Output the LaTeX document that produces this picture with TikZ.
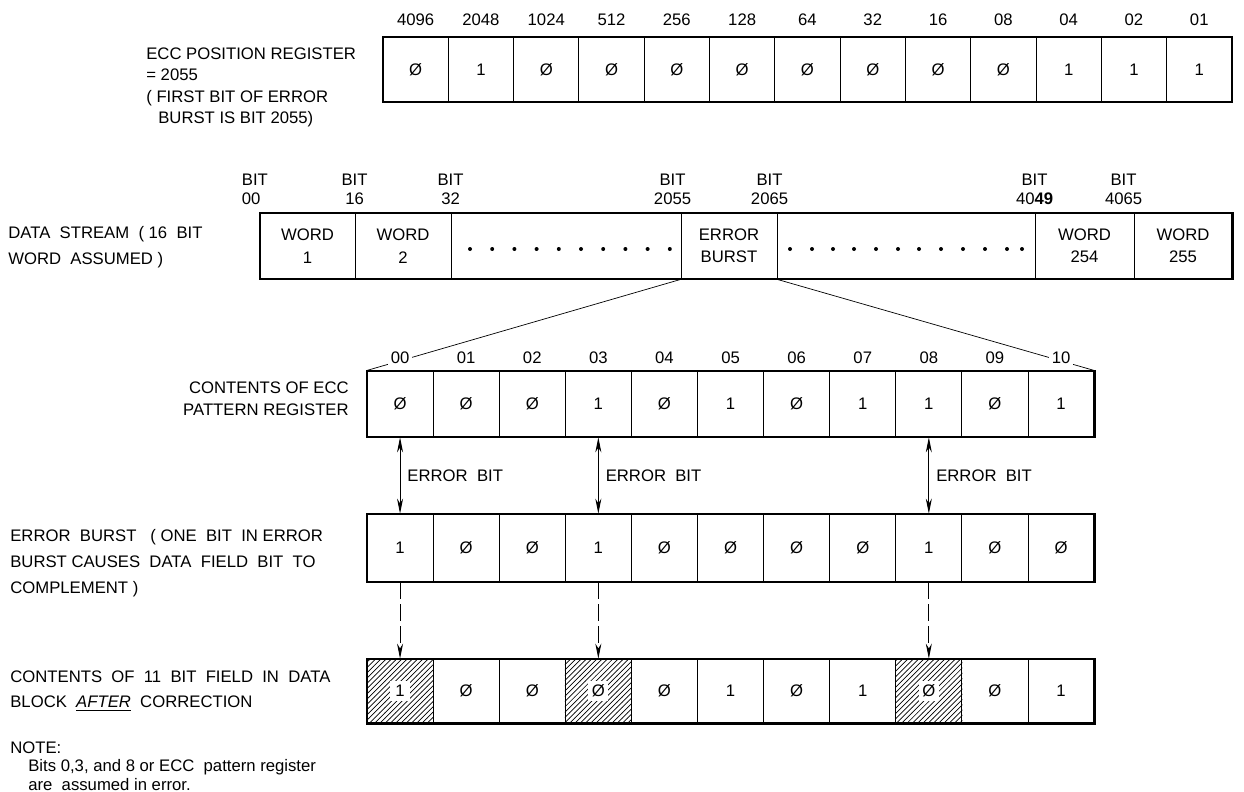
\documentclass[tikz,border=0pt]{standalone}
\usepackage{fontspec}
\setmainfont{Liberation Sans}
\usetikzlibrary{positioning,patterns,arrows.meta}

\begin{document}
\begin{tikzpicture}[x=0.2mm,y=-0.2mm, font=\fontsize{9.5}{11}\selectfont,
    cell/.style={draw, line width=0.5pt, inner sep=0pt, minimum width=13.22mm, minimum height=13.2mm},
    poscell/.style={cell, minimum width=13.06mm, minimum height=13mm},
    wordcell/.style={cell, align=center, font=\fontsize{9.5}{12.8}\selectfont, minimum height=13.2mm},
    frame/.style={line width=1.2pt},
    lbl/.style={inner sep=1pt},
    bitlbl/.style={inner sep=0pt, align=center, font=\fontsize{9.5}{10.8}\selectfont},
    txt/.style={align=left, inner sep=0pt, anchor=north west},
    errbit/.style={{Stealth[length=3mm,width=1.2mm]}-{Stealth[length=3mm,width=1.2mm]}, line width=0.5pt},
    flip/.style={-{Stealth[length=3mm,width=1.2mm]}, dash pattern=on 3.4mm off 1mm, line width=0.5pt}]

    \useasboundingbox (0,0) rectangle (1244,792);

    % ECC position register
    \node[txt, font=\fontsize{9.5}{12.3}\selectfont] (postxt) at (146,47)
        {ECC POSITION REGISTER\\= 2055\\( FIRST BIT OF ERROR\\\hspace{2.4mm}BURST IS BIT 2055)};
    \foreach \v [count=\i from 0] in {Ø,1,Ø,Ø,Ø,Ø,Ø,Ø,Ø,Ø,1,1,1}
        \node[poscell] (pos\i) at ({415.65+65.3*\i},69.5) {\v};
    \foreach \w [count=\i from 0] in {4096,2048,1024,512,256,128,64,32,16,08,04,02,01}
        \node[lbl, above=1.8mm of pos\i] (posw\i) {\w};
    \draw[frame] (pos0.north west) rectangle (pos12.south east);

    % data stream
    \node[txt, font=\fontsize{9.5}{14.7}\selectfont] (dstxt) at (8,226)
        {DATA\ \ STREAM\ \ (\ 16\ \ BIT\\WORD\ \ ASSUMED )};
    \foreach \a/\b/\t [count=\i] in {260/355/{WORD\\1}, 355/451/{WORD\\2}, 451/681/{},
            681/777/{ERROR\\BURST}, 777/1035/{}, 1035/1134/{WORD\\254}, 1134/1232/{WORD\\255}}
        \node[wordcell, minimum width={(\b-\a)*0.2mm}] (ds\i) at ({(\a+\b)/2},246) {\t};
    \foreach \k in {0,...,9} \fill ({470+22.2*\k},249) circle[radius=0.4mm];
    \foreach \x in {790,812,833,854,876,898,919,941,963,985,1007,1022} \fill (\x,249) circle[radius=0.4mm];
    \draw[frame] (ds1.north west) rectangle (ds7.south east);

    \node[bitlbl, align=left, anchor=south west] (bit00) at ([xshift=-3.6mm, yshift=1.6mm]ds1.north west) {BIT\\00};
    \node[bitlbl, anchor=south] (bit16) at ([yshift=1.6mm]ds2.north west) {BIT\\16};
    \node[bitlbl, anchor=south] (bit32) at ([yshift=1.6mm]ds3.north west) {BIT\\32};
    \node[bitlbl, anchor=south] (bit2055) at ([xshift=-1.6mm, yshift=1.6mm]ds4.north west) {BIT\\2055};
    \node[bitlbl, anchor=south] (bit2065) at ([xshift=-1.4mm, yshift=1.6mm]ds5.north west) {BIT\\2065};
    \node[bitlbl, anchor=south] (bit4049) at ([yshift=1.6mm]ds6.north west) {BIT\\40\textbf{49}};
    \node[bitlbl, anchor=south] (bit4065) at ([xshift=-2mm, yshift=1.6mm]ds7.north west) {BIT\\4065};

    % ECC pattern register
    \node[anchor=north east, align=right, inner sep=0pt, font=\fontsize{9.5}{13}\selectfont] (pattxt) at (349,381)
        {CONTENTS OF ECC\\PATTERN REGISTER};
    \foreach \v [count=\i from 0] in {Ø,Ø,Ø,1,Ø,1,Ø,1,1,Ø,1}
        \node[cell] (pat\i) at ({400.05+66.1*\i},404) {\v};
    \draw (ds4.south west) -- (pat0.north west);
    \draw (ds4.south east) -- (pat10.north east);
    \foreach \w [count=\i from 0] in {00,01,02,03,04,05,06,07,08,09,10}
        \node[lbl, fill=white, inner sep=1.5pt, above=0.8mm of pat\i] (patw\i) {\w};
    \draw[frame] (pat0.north west) rectangle (pat10.south east);

    % error burst
    \node[txt, font=\fontsize{9.5}{14.7}\selectfont] (brsttxt) at (10,529)
        {ERROR\ \ BURST\ \ \ (\ ONE\ \ BIT\ \ IN ERROR\\BURST CAUSES\ \ DATA\ \ FIELD\ \ BIT\ \ TO\\COMPLEMENT )};
    \foreach \v [count=\i from 0] in {1,Ø,Ø,1,Ø,Ø,Ø,Ø,1,Ø,Ø}
        \node[cell, minimum height=13.6mm] (brst\i) at ({400.05+66.1*\i},548) {\v};
    \draw[frame] (brst0.north west) rectangle (brst10.south east);

    \foreach \i in {0,3,8}
        \draw[errbit] (pat\i.south) -- (brst\i.north) node[midway, right=1.4mm, inner sep=0pt] (eb\i) {ERROR\ \ BIT};

    % corrected field
    \node[txt, font=\fontsize{9.5}{14.7}\selectfont] (fixtxt) at (10,670)
        {CONTENTS\ \ OF\ \ 11\ \ BIT\ \ FIELD\ \ IN\ \ DATA\\BLOCK\ \ \underline{\textit{AFTER}}\ \ CORRECTION};
    \foreach \v [count=\i from 0] in {1,Ø,Ø,Ø,Ø,1,Ø,1,Ø,Ø,1}
        \node[cell, minimum height=12.8mm] (fix\i) at ({400.05+66.1*\i},691) {\v};
    \foreach \i/\v in {0/1,3/Ø,8/Ø} {
        \fill[pattern=north east lines] (fix\i.north west) rectangle (fix\i.south east);
        \node[fill=white, inner sep=0pt, minimum size=4mm] (mark\i) at (fix\i) {\v};
    }
    \draw[frame] (fix0.north west) rectangle (fix10.south east);

    \foreach \i in {0,3,8}
        \draw[flip] (brst\i.south) -- (fix\i.north);

    % note
    \node[txt, font=\fontsize{9.5}{10.8}\selectfont] (note) at (10,741)
        {NOTE:\\\hspace{3.6mm}Bits 0,3, and 8 or ECC\ \ pattern register\\\hspace{3.6mm}are\ \ assumed in error.};
\end{tikzpicture}
\end{document}
